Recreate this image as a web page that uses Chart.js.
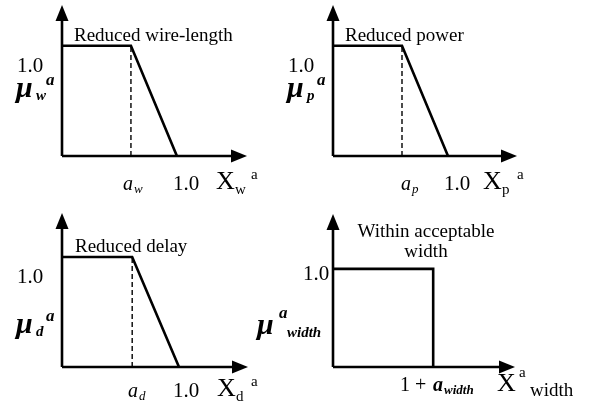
<!DOCTYPE html>
<html><head><meta charset="utf-8">
<script src="https://cdn.jsdelivr.net/npm/chart.js@4"></script>
<style>
html,body{margin:0;padding:0;background:#fff;width:593px;height:407px;overflow:hidden}
canvas{position:absolute;left:0;top:0}
</style></head>
<body>
<canvas id="c0" width="593" height="407"></canvas>
<canvas id="c1" width="593" height="407"></canvas>
<canvas id="c2" width="593" height="407"></canvas>
<canvas id="c3" width="593" height="407"></canvas>
<script>
// ---- data ----
const panelTitles = ["Reduced wire-length", "Reduced power", "Reduced delay", "Within acceptable|width"];
const wireX  = [0, 0.6, 1.0];
const wireY  = [1.0, 1.0, 0];
const powerX = [0, 0.6, 1.0];
const powerY = [1.0, 1.0, 0];
const delayX = [0, 0.6, 1.0];
const delayY = [1.0, 1.0, 0];
const widthX = [0, 1.2, 1.2];
const widthY = [1.0, 1.0, 0];
const aThresholds = [0.6, 0.6, 0.6];           // dashed a_w, a_p, a_d
const yTickLabels = ["1.0", "1.0", "1.0", "1.0"];
const xTickLabels = ["1.0", "1.0", "1.0", "1 +"];
const subscripts = ["w", "p", "d", "width"];
const xAxisMax = [1.61, 1.6, 1.59, 2.18];
const yAxisMax = [1.37, 1.37, 1.4, 1.56];

const SERIF = "'Liberation Serif','DejaVu Serif',serif";

function pts(xs, ys){ return xs.map((x,i)=>({x:x, y:ys[i]})); }

function txt(ctx, s, x, y, font, align){
  ctx.font = font + " " + SERIF;
  ctx.textAlign = align || "left";
  ctx.textBaseline = "alphabetic";
  ctx.fillStyle = "#000";
  ctx.fillText(s, x, y);
}

function arrowAxes(ctx, chart, xmax, ymax){
  const xs = chart.scales.x, ys = chart.scales.y;
  const x0 = xs.getPixelForValue(0), y0 = ys.getPixelForValue(0);
  const xt = xs.getPixelForValue(xmax), yt = ys.getPixelForValue(ymax);
  ctx.save();
  ctx.strokeStyle = "#000"; ctx.fillStyle = "#000"; ctx.lineWidth = 2.6;
  ctx.beginPath(); ctx.moveTo(x0, y0); ctx.lineTo(xt - 10, y0); ctx.stroke();
  ctx.beginPath(); ctx.moveTo(x0, y0); ctx.lineTo(x0, yt + 10); ctx.stroke();
  ctx.beginPath(); ctx.moveTo(xt, y0); ctx.lineTo(xt - 16, y0 - 6.5); ctx.lineTo(xt - 16, y0 + 6.5); ctx.closePath(); ctx.fill();
  ctx.beginPath(); ctx.moveTo(x0, yt); ctx.lineTo(x0 - 6.5, yt + 16); ctx.lineTo(x0 + 6.5, yt + 16); ctx.closePath(); ctx.fill();
  ctx.restore();
}

// label layouts (page pixels)
const labelLayouts = [
  function(ctx){ // wire
    txt(ctx, panelTitles[0], 74, 41, "19px");
    txt(ctx, yTickLabels[0], 17, 72, "21px");
    txt(ctx, "\u03BC", 16, 97, "bold italic 30px");
    txt(ctx, subscripts[0], 36, 100, "bold italic 15px");
    txt(ctx, "a", 46, 85, "bold italic 17px");
    txt(ctx, "a", 123, 190, "italic 20px");
    txt(ctx, subscripts[0], 134, 193, "italic 13px");
    txt(ctx, xTickLabels[0], 173, 190, "21px");
    txt(ctx, "X", 216, 189, "26px");
    txt(ctx, subscripts[0], 235, 194, "15px");
    txt(ctx, "a", 251, 179, "15px");
  },
  function(ctx){ // power
    txt(ctx, panelTitles[1], 345, 41, "19px");
    txt(ctx, yTickLabels[1], 288, 72, "21px");
    txt(ctx, "\u03BC", 287, 97, "bold italic 30px");
    txt(ctx, subscripts[1], 307, 100, "bold italic 15px");
    txt(ctx, "a", 317, 85, "bold italic 17px");
    txt(ctx, "a", 401, 190, "italic 20px");
    txt(ctx, subscripts[1], 412, 193, "italic 13px");
    txt(ctx, xTickLabels[1], 444, 190, "21px");
    txt(ctx, "X", 483, 189, "26px");
    txt(ctx, subscripts[1], 502, 194, "15px");
    txt(ctx, "a", 517, 179, "15px");
  },
  function(ctx){ // delay
    txt(ctx, panelTitles[2], 75, 252, "19px");
    txt(ctx, yTickLabels[2], 17, 283, "21px");
    txt(ctx, "\u03BC", 16, 333, "bold italic 30px");
    txt(ctx, subscripts[2], 36, 336, "bold italic 15px");
    txt(ctx, "a", 46, 321, "bold italic 17px");
    txt(ctx, "a", 128, 397, "italic 20px");
    txt(ctx, subscripts[2], 139, 400, "italic 13px");
    txt(ctx, xTickLabels[2], 173, 397, "21px");
    txt(ctx, "X", 217, 396, "26px");
    txt(ctx, subscripts[2], 236, 401, "15px");
    txt(ctx, "a", 251, 386, "15px");
  },
  function(ctx){ // width
    const t = panelTitles[3].split("|");
    txt(ctx, t[0], 426, 237, "19px", "center");
    txt(ctx, t[1], 426, 257, "19px", "center");
    txt(ctx, yTickLabels[3], 303, 280, "21px");
    txt(ctx, "\u03BC", 257, 334, "bold italic 30px");
    txt(ctx, "a", 279, 318, "bold italic 17px");
    txt(ctx, subscripts[3], 287, 337, "bold italic 15px");
    txt(ctx, xTickLabels[3], 400, 391, "20px");
    txt(ctx, "a", 433, 391, "bold italic 20px");
    txt(ctx, subscripts[3], 444, 394, "bold italic 13px");
    txt(ctx, "X", 497, 391, "26px");
    txt(ctx, "a", 519, 377, "15px");
    txt(ctx, subscripts[3], 530, 396, "19px");
  }
];

// plot areas: [axisX, tipX, tipY, axisY]
const areas = [
  [62, 247, 5, 156],
  [333, 517, 5, 156],
  [62, 248, 213, 367],
  [333, 515, 214, 367]
];

const series = [[wireX, wireY], [powerX, powerY], [delayX, delayY], [widthX, widthY]];

series.forEach((s, i) => {
  const a = areas[i];
  const datasets = [{
    data: pts(s[0], s[1]), showLine: true, borderColor: "#000", borderWidth: 2.6,
    pointRadius: 0, fill: false, tension: 0, clip: false
  }];
  if (i < 3) {
    datasets.push({
      data: pts([aThresholds[i], aThresholds[i]], [0, s[1][1]]), showLine: true,
      borderColor: "#000", borderWidth: 1.4, borderDash: [5, 3], pointRadius: 0, clip: false
    });
  }
  new Chart(document.getElementById("c" + i), {
    type: "scatter",
    data: { datasets: datasets },
    options: {
      responsive: false, animation: false, devicePixelRatio: 1,
      layout: { padding: { left: a[0], right: 593 - a[1], top: a[2], bottom: 407 - a[3] } },
      scales: {
        x: { type: "linear", min: 0, max: xAxisMax[i], display: false },
        y: { type: "linear", min: 0, max: yAxisMax[i], display: false }
      },
      plugins: { legend: { display: false }, tooltip: { enabled: false } }
    },
    plugins: [{
      id: "decor" + i,
      afterDatasetsDraw(chart) {
        const ctx = chart.ctx;
        arrowAxes(ctx, chart, xAxisMax[i], yAxisMax[i]);
        labelLayouts[i](ctx);
      }
    }]
  });
});
</script>
</body></html>
